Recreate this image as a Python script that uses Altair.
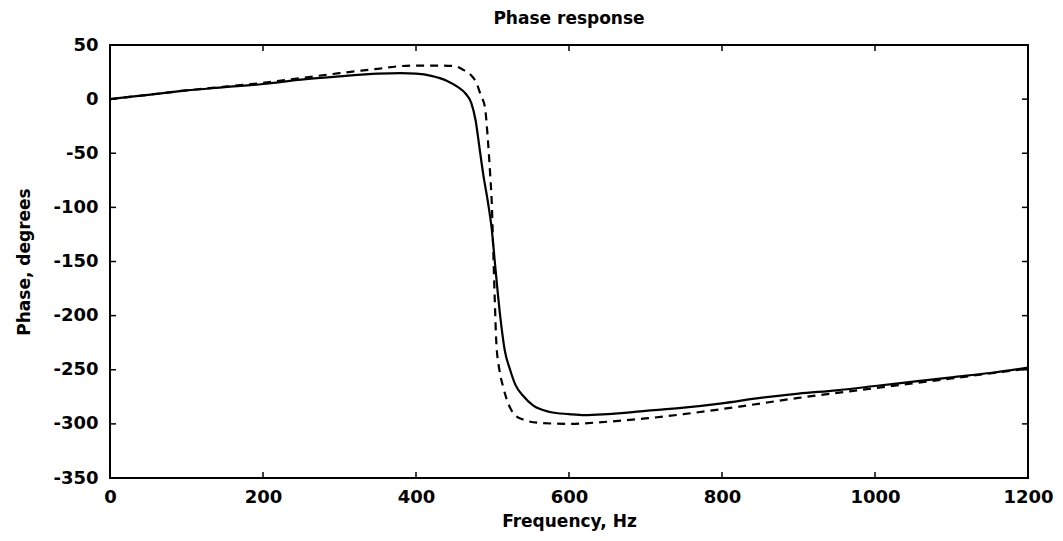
import altair as alt
import pandas as pd

# Solid curve (freq Hz, phase deg)
solid_f = [0, 50, 100, 150, 200, 250, 300, 350, 380, 400, 420, 440, 455, 465, 472, 478,
           483, 488, 494, 499, 503, 510, 516, 523, 530, 540, 553, 575, 600, 620, 650,
           700, 750, 800, 850, 900, 950, 1000, 1050, 1100, 1150, 1200]
solid_v = [0, 4, 8, 11, 14, 18, 21, 23.5, 24, 23.5, 21.5, 17, 11, 5, -3, -20,
           -45, -70, -95, -120, -150, -200, -232, -250, -264, -274, -283, -289, -291, -292, -291,
           -288, -285, -281, -276, -272, -269, -265, -261, -257, -253, -248]

# Dashed curve
dash_f = [0, 50, 100, 150, 200, 250, 300, 350, 380, 400, 430, 450, 462, 472, 479, 485,
          490, 494, 497, 499, 501, 503, 505, 509, 514, 518, 527, 540, 560, 600, 650,
          700, 750, 823, 900, 1000, 1100, 1200]
dash_v = [0, 4, 8, 11.5, 15, 19.5, 24, 28, 30.5, 31, 31, 30.5, 27, 22, 15, 3,
          -7, -38, -70, -95, -140, -186, -225, -250, -266, -276, -290, -296, -299, -300, -298,
          -295, -291, -284, -276, -267, -258, -249]

x_ticks = [0, 200, 400, 600, 800, 1000, 1200]
y_ticks = [-350, -300, -250, -200, -150, -100, -50, 0, 50]

W, H = 918, 433
FONT = "DejaVu Sans"

xs = alt.Scale(domain=[0, 1200], nice=False, zero=False)
ys = alt.Scale(domain=[-350, 50], nice=False, zero=False)

solid_df = pd.DataFrame({"f": solid_f, "v": solid_v})
dash_df = pd.DataFrame({"f": dash_f, "v": dash_v})
xt_df = pd.DataFrame({"f": x_ticks})
yt_df = pd.DataFrame({"v": y_ticks})

x_axis = alt.Axis(values=x_ticks, title="Frequency, Hz", grid=False, ticks=False, domain=False,
                  labelExpr="'' + datum.value",
                  labelFont=FONT, labelFontSize=18, labelFontWeight="bold", labelColor="black",
                  labelPadding=10, titleFont=FONT, titleFontSize=17, titleFontWeight="bold",
                  titleColor="black", titlePadding=7, labelFlush=False)
y_axis = alt.Axis(values=y_ticks, title="Phase, degrees", grid=False, ticks=False, domain=False,
                  labelExpr="'' + datum.value",
                  labelFont=FONT, labelFontSize=18, labelFontWeight="bold", labelColor="black",
                  labelPadding=12, titleFont=FONT, titleFontSize=17, titleFontWeight="bold",
                  titleColor="black", titlePadding=19, labelFlush=False)

solid = alt.Chart(solid_df).mark_line(color="black", strokeWidth=2.2, interpolate="monotone").encode(
    x=alt.X("f:Q", scale=xs, axis=x_axis),
    y=alt.Y("v:Q", scale=ys, axis=y_axis),
)
dashed = alt.Chart(dash_df).mark_line(color="black", strokeWidth=2.2, strokeDash=[8, 6],
                                      interpolate="monotone").encode(
    x=alt.X("f:Q", scale=xs),
    y=alt.Y("v:Q", scale=ys),
)

tick_len = 6
xb = alt.Chart(xt_df).mark_rule(color="black", strokeWidth=1.5).encode(
    x=alt.X("f:Q", scale=xs), y=alt.value(H), y2=alt.value(H - tick_len))
xtop = alt.Chart(xt_df).mark_rule(color="black", strokeWidth=1.5).encode(
    x=alt.X("f:Q", scale=xs), y=alt.value(0), y2=alt.value(tick_len))
yl = alt.Chart(yt_df).mark_rule(color="black", strokeWidth=1.5).encode(
    y=alt.Y("v:Q", scale=ys), x=alt.value(0), x2=alt.value(tick_len))
yr = alt.Chart(yt_df).mark_rule(color="black", strokeWidth=1.5).encode(
    y=alt.Y("v:Q", scale=ys), x=alt.value(W), x2=alt.value(W - tick_len))

chart = alt.layer(solid, dashed, xb, xtop, yl, yr).properties(
    width=W, height=H,
    title=alt.TitleParams("Phase response", font=FONT, fontSize=17, fontWeight="bold",
                          color="black", offset=8),
    autosize="none",
    padding={"left": 110, "top": 45, "right": 35, "bottom": 63},
    background="white",
).configure_view(stroke="black", strokeWidth=2)

chart.save("out.html", embed_options={"renderer": "svg", "actions": False})
